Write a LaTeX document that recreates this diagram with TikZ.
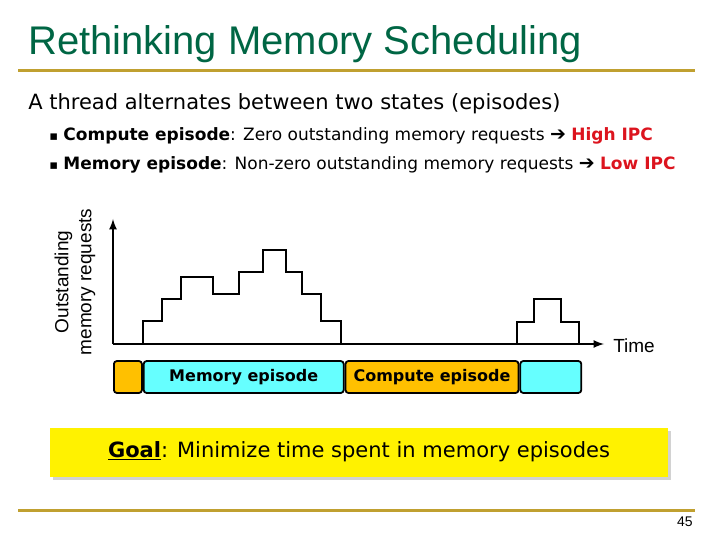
\documentclass[tikz,border=0pt]{standalone}
\usepackage{fontspec}
\setmainfont{DejaVu Sans}
\newfontfamily\arialfont{Liberation Sans}
\usetikzlibrary{arrows,positioning,shadows}
\definecolor{titlegreen}{RGB}{0,102,68}
\definecolor{rulegold}{RGB}{192,160,48}
\definecolor{ipcred}{RGB}{220,20,30}
\definecolor{epiorange}{RGB}{255,192,0}
\definecolor{epicyan}{RGB}{102,255,255}
\newcommand{\sqbullet}{{\fontsize{13}{13}\selectfont ▪}}
\newcommand{\thenarrow}{{\bfseries\fontsize{19}{19}\selectfont ➔}}

\begin{document}
\begin{tikzpicture}[x=1pt,y=-1pt,>=latex,line width=2.5pt]
  \tikzstyle{episode}=[draw=black,line width=1.8pt,rounded corners=3pt,minimum height=32pt,inner sep=0pt,font=\bfseries\fontsize{16}{18}\selectfont]
  \tikzstyle{goldrule}=[rulegold,line width=3pt]
  \tikzstyle{textline}=[anchor=base west,inner sep=0pt]
  \useasboundingbox (0,0) rectangle (720,540);

  \node[textline,text=titlegreen,font=\arialfont\fontsize{40}{48}\selectfont] (title) at (27,55) {Rethinking Memory Scheduling};
  \coordinate (topl) at (18,71);
  \coordinate (topr) at (695,71);
  \draw[goldrule] (topl) -- (topr);

  \node[textline,font=\fontsize{21}{24}\selectfont] (intro) at (27,110) {A thread alternates between two states (episodes)};
  \node[textline,font=\fontsize{17}{20}\selectfont] (compute) at (48,141) {\sqbullet\ \textbf{Compute episode}: Zero outstanding memory requests \thenarrow\ \textcolor{ipcred}{\textbf{High IPC}}};
  \node[textline,font=\fontsize{17}{20}\selectfont] (memory) at (48,170) {\sqbullet\ \textbf{Memory episode}: Non-zero outstanding memory requests \thenarrow\ \textcolor{ipcred}{\textbf{Low IPC}}};

  \coordinate (origin) at (113,344);
  \coordinate (ytip) at (113,219);
  \coordinate (xtip) at (604,344);
  \draw[->] (origin) -- (ytip);
  \draw[->] (origin) -- (xtip);
  \node[rotate=90,align=center,font=\arialfont\fontsize{19}{23}\selectfont] (ylabel) at (75,282) {Outstanding\\memory requests};
  \node[textline,font=\arialfont\fontsize{19}{22}\selectfont] (time) at (612,352) {Time};

  \draw (143,344) |- (162,321) |- (181,299) |- (213,277) |- (239,294) |- (263,272) |- (286,250) |- (302,272) |- (321,294) |- (341,321) -- (341,344);
  \draw (517,344) |- (534,322) |- (561,299) |- (579,322) -- (579,344);

  \node[episode,fill=epiorange,minimum width=28pt,anchor=west] (e1) at (113,377) {};
  \node[episode,fill=epicyan,minimum width=200pt,right=0pt of e1] (e2) {Memory episode};
  \node[episode,fill=epiorange,minimum width=173pt,right=0pt of e2] (e3) {Compute episode};
  \node[episode,fill=epicyan,minimum width=61pt,right=0pt of e3] (e4) {};

  \node[fill=yellow,minimum width=618pt,minimum height=49pt,drop shadow={shadow xshift=3pt,shadow yshift=-3pt,fill=black!35},font=\fontsize{21}{24}\selectfont] (goal) at (359,452) {\textbf{\underline{Goal}}: Minimize time spent in memory episodes};

  \coordinate (botl) at (18,510);
  \coordinate (botr) at (695,510);
  \draw[goldrule] (botl) -- (botr);
  \node[anchor=base east,inner sep=0pt,font=\arialfont\fontsize{14}{16}\selectfont] (page) at (694,526) {45};
\end{tikzpicture}
\end{document}
